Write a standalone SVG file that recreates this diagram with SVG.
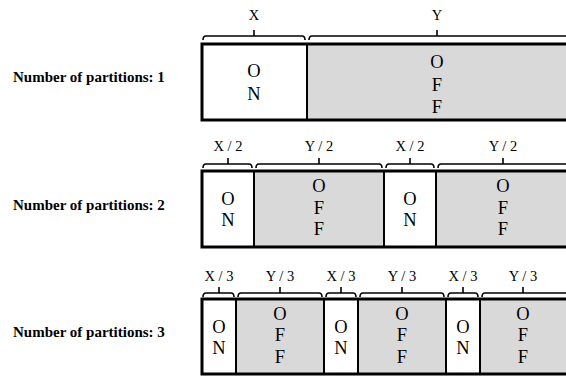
<svg xmlns="http://www.w3.org/2000/svg" width="566" height="376" viewBox="0 0 566 376">
<style>
.bg{fill:#ffffff}
.on{fill:#ffffff;stroke:#000;stroke-width:2}
.off{fill:#d9d9d9;stroke:#000;stroke-width:2}
.frame{fill:none;stroke:#000;stroke-width:3}
.brace{fill:none;stroke:#000;stroke-width:1.6;stroke-linejoin:round}
.lbl{font-family:"Liberation Serif","Times New Roman",serif;font-size:15px;font-weight:bold;fill:#000}
.top{font-family:"Liberation Serif","Times New Roman",serif;font-size:14.5px;fill:#000;text-anchor:middle}
.cell{font-family:"Liberation Serif","Times New Roman",serif;font-size:18.5px;fill:#000;text-anchor:middle}
</style>
<rect class="bg" x="0" y="0" width="566" height="376"/>

<g id="row1-label"><text class="lbl" x="13" y="82">Number of partitions: 1</text></g>
<g id="row2-label"><text class="lbl" x="13" y="210">Number of partitions: 2</text></g>
<g id="row3-label"><text class="lbl" x="13" y="337">Number of partitions: 3</text></g>

<g id="row1">
  <g id="r1-on"><rect class="on" x="202" y="44" width="105" height="76"/>
    <text class="cell"><tspan x="254" y="77">O</tspan><tspan x="254" y="100">N</tspan></text></g>
  <g id="r1-off"><rect class="off" x="307" y="44" width="262" height="76"/>
    <text class="cell"><tspan x="437" y="68">O</tspan><tspan x="437" y="91">F</tspan><tspan x="437" y="113">F</tspan></text></g>
  <rect class="frame" x="202" y="44" width="367" height="76"/>
</g>

<g id="row2">
  <g id="r2-on1"><rect class="on" x="202" y="171" width="52" height="76"/>
    <text class="cell"><tspan x="228" y="205">O</tspan><tspan x="228" y="226">N</tspan></text></g>
  <g id="r2-off1"><rect class="off" x="254" y="171" width="130" height="76"/>
    <text class="cell"><tspan x="319" y="192">O</tspan><tspan x="319" y="214">F</tspan><tspan x="319" y="235">F</tspan></text></g>
  <g id="r2-on2"><rect class="on" x="384" y="171" width="52" height="76"/>
    <text class="cell"><tspan x="410" y="205">O</tspan><tspan x="410" y="226">N</tspan></text></g>
  <g id="r2-off2"><rect class="off" x="436" y="171" width="133" height="76"/>
    <text class="cell"><tspan x="503" y="192">O</tspan><tspan x="503" y="214">F</tspan><tspan x="503" y="235">F</tspan></text></g>
  <rect class="frame" x="202" y="171" width="367" height="76"/>
</g>

<g id="row3">
  <g id="r3-on1"><rect class="on" x="202" y="299" width="34" height="75"/>
    <text class="cell"><tspan x="219" y="333">O</tspan><tspan x="219" y="354">N</tspan></text></g>
  <g id="r3-off1"><rect class="off" x="236" y="299" width="88" height="75"/>
    <text class="cell"><tspan x="280" y="320">O</tspan><tspan x="280" y="341">F</tspan><tspan x="280" y="363">F</tspan></text></g>
  <g id="r3-on2"><rect class="on" x="324" y="299" width="34" height="75"/>
    <text class="cell"><tspan x="341" y="333">O</tspan><tspan x="341" y="354">N</tspan></text></g>
  <g id="r3-off2"><rect class="off" x="358" y="299" width="88" height="75"/>
    <text class="cell"><tspan x="402" y="320">O</tspan><tspan x="402" y="341">F</tspan><tspan x="402" y="363">F</tspan></text></g>
  <g id="r3-on3"><rect class="on" x="446" y="299" width="34" height="75"/>
    <text class="cell"><tspan x="463" y="333">O</tspan><tspan x="463" y="354">N</tspan></text></g>
  <g id="r3-off3"><rect class="off" x="480" y="299" width="89" height="75"/>
    <text class="cell"><tspan x="523" y="320">O</tspan><tspan x="523" y="341">F</tspan><tspan x="523" y="363">F</tspan></text></g>
  <rect class="frame" x="202" y="299" width="367" height="75"/>
</g>

<g id="connectors">
  <path class="brace" d="M203,40 Q203,36 206,36 H302 Q305,36 305,40 M254,36 V30"/>
  <path class="brace" d="M309,40 Q309,36 312,36 H570 M437,36 V30"/>

  <path class="brace" d="M203,168 Q203,164 206,164 H249 Q252,164 252,168 M228,164 V158"/>
  <path class="brace" d="M256,168 Q256,164 259,164 H379 Q382,164 382,168 M319,164 V158"/>
  <path class="brace" d="M386,168 Q386,164 389,164 H431 Q434,164 434,168 M410,164 V158"/>
  <path class="brace" d="M438,168 Q438,164 441,164 H570 M503,164 V158"/>

  <path class="brace" d="M203,297 Q203,293 206,293 H231 Q234,293 234,297 M219,293 V287"/>
  <path class="brace" d="M238,297 Q238,293 241,293 H319 Q322,293 322,297 M280,293 V287"/>
  <path class="brace" d="M326,297 Q326,293 329,293 H353 Q356,293 356,297 M341,293 V287"/>
  <path class="brace" d="M360,297 Q360,293 363,293 H441 Q444,293 444,297 M402,293 V287"/>
  <path class="brace" d="M448,297 Q448,293 451,293 H475 Q478,293 478,297 M463,293 V287"/>
  <path class="brace" d="M482,297 Q482,293 485,293 H570 M523,293 V287"/>
</g>

<g id="labels">
  <text class="top" x="254" y="20">X</text>
  <text class="top" x="437" y="20">Y</text>
  <text class="top" x="228" y="151">X / 2</text>
  <text class="top" x="319" y="151">Y / 2</text>
  <text class="top" x="410" y="151">X / 2</text>
  <text class="top" x="503" y="151">Y / 2</text>
  <text class="top" x="219" y="281">X / 3</text>
  <text class="top" x="280" y="281">Y / 3</text>
  <text class="top" x="341" y="281">X / 3</text>
  <text class="top" x="402" y="281">Y / 3</text>
  <text class="top" x="463" y="281">X / 3</text>
  <text class="top" x="523" y="281">Y / 3</text>
</g>
</svg>
